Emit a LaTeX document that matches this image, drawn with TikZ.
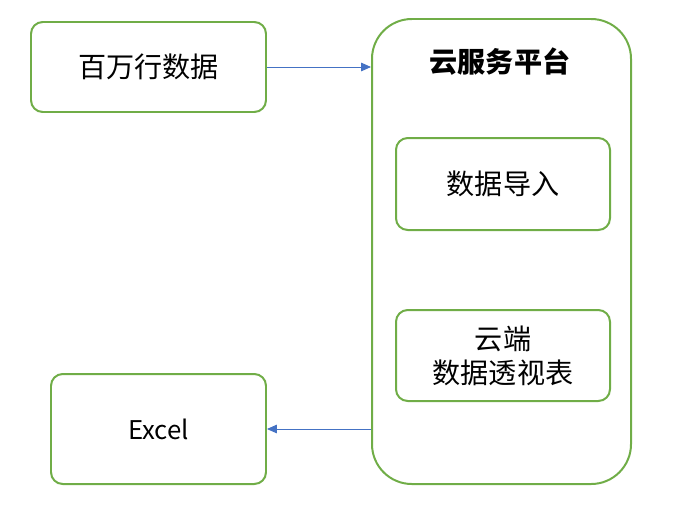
\documentclass[tikz,border=0pt]{standalone}
\usepackage{fontspec}
\setmainfont{Noto Sans CJK SC}
\usepackage{tikz}
\usetikzlibrary{positioning,calc,arrows.meta}
\definecolor{BoxGreen}{RGB}{112,173,71}
\definecolor{ArrowBlue}{RGB}{68,114,196}

\begin{document}
\begin{tikzpicture}[
    font=\fontsize{24}{29}\selectfont,
    >={Triangle[length=3mm,width=2.6mm]},
    box/.style={
        draw=BoxGreen,
        line width=1.7pt,
        rounded corners=10pt,
        align=center,
        fill=white
    },
    platform/.style={
        draw=BoxGreen,
        line width=1.7pt,
        rounded corners=34pt,
        minimum width=7.77cm,
        minimum height=13.95cm
    },
    arrow/.style={
        ->,
        line width=0.8pt,
        draw=ArrowBlue,
        ArrowBlue
    }
]

\useasboundingbox (0,0) rectangle (20.55,-15.9);

\node[platform] (cloud) at (15.045,-7.545) {};
\node[font=\fontsize{24}{29}\selectfont\bfseries] (title) at (15.0,-1.86) {云服务平台};

\node[box, minimum width=7.05cm, minimum height=2.7cm] (rows) at (4.455,-2.01) {百万行数据};
\node[box, minimum width=6.42cm, minimum height=2.76cm] (import) at (15.09,-5.52) {数据导入};
\node[box, minimum width=6.42cm, minimum height=2.73cm] (pivot) at (15.09,-10.665) {云端\\数据透视表};
\node[box, minimum width=6.45cm, minimum height=3.3cm, font=\fontsize{22}{27}\selectfont] (excel) at (4.755,-12.87) {Excel};

\draw[arrow] (rows.east) -- (rows.east -| cloud.west);
\draw[arrow] (cloud.west |- excel.east) -- (excel.east);

\end{tikzpicture}
\end{document}
